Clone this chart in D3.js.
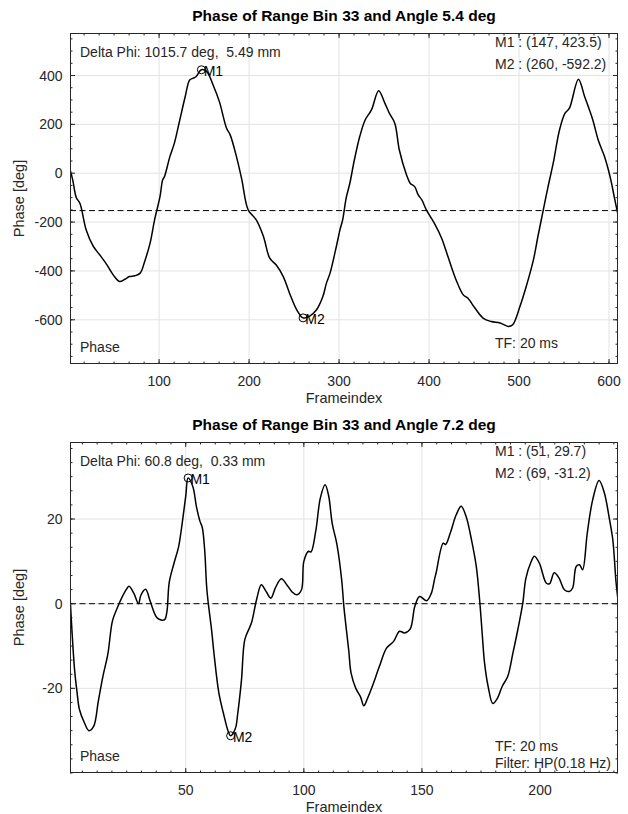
<!DOCTYPE html>
<meta charset="utf-8">
<style>
  body { margin: 0; background: #fff; }
  svg text { font-family: Arial, "Liberation Sans", Helvetica, sans-serif; fill: #262626; white-space: pre; }
</style>
<body>
<div id="chart"></div>
<script src="https://cdn.jsdelivr.net/npm/d3@7/dist/d3.min.js"></script>
<script>

// ---- data ----
var topFrames = [1, 4, 8, 12, 19, 27, 34, 42, 49, 56, 62, 67, 73, 79, 84, 90, 95, 101, 104, 106,
  112, 117, 123, 129, 134, 138, 141, 147, 153, 160, 167, 175, 179, 186, 192, 199, 208, 216, 223, 230,
  238, 245, 253, 260, 267, 275, 282, 286, 290, 297, 301, 304, 308, 312, 317, 323, 329, 336, 344, 351,
  356, 362, 367, 375, 379, 384, 388, 392, 397, 406, 414, 421, 430, 438, 443, 451, 460, 469, 479, 488,
  493, 501, 508, 516, 521, 527, 532, 538, 545, 551, 556, 566, 573, 582, 588, 595, 602, 606, 610];
var topPhase = [15, -27, -100, -123, -232, -300, -334, -375, -416, -443, -434, -423, -420, -409, -361, -286, -191, -96, -27, -14,
  68, 123, 218, 313, 382, 389, 395, 423.5, 416, 361, 293, 184, 157, 68, -27, -150, -191, -259, -348, -375,
  -423, -491, -559, -592.2, -586, -559, -505, -450, -409, -300, -232, -191, -100, -41, 54, 150, 218, 259, 338, 286,
  245, 204, 95, -7, -41, -55, -89, -109, -150, -205, -266, -341, -436, -498, -511, -552, -593, -607, -613, -627,
  -620, -546, -464, -355, -259, -150, -60, 41, 177, 245, 266, 385, 313, 218, 136, 68, -27, -100, -170];

var bottomFrames = [1, 2, 3, 4, 5, 7, 9, 11, 13, 15, 17, 19, 21, 23, 25, 26, 28, 30, 31, 33,
  35, 38, 41, 42, 43, 45, 47, 48, 50, 51, 53, 54.5, 56, 57, 58, 59, 61, 62, 64, 66,
  68, 69, 71, 72, 73.6, 75, 77, 78, 80, 82, 84, 86, 88, 90.5, 93, 95, 97, 99, 100, 102,
  103, 105, 107, 109, 110.5, 112, 114, 116, 117, 119, 120, 122, 124, 125.4, 127, 129, 132, 135, 138, 140.5,
  142.6, 145, 147, 149, 152, 154, 155.3, 156, 159, 160, 162, 164.5, 166.6, 168.7, 171, 173, 174.4, 175.5, 176.5, 178,
  180, 182, 184, 186.3, 188.5, 190.6, 192.7, 194, 196, 197.6, 199.7, 202.6, 204, 206, 208, 210.3, 212.4, 213.8, 215.3, 216.7,
  218, 220, 222.3, 225, 227.2, 229.4, 230.8, 232.2, 233];
var bottomPhase = [2, -8, -16, -21, -25, -28, -30, -29, -23, -17, -12, -4, -1, 1.5, 3.5, 4.1, 2.5, 0, 2, 3.4,
  0.5, -3.4, -3.8, -2, 5, 9.5, 13.5, 17, 25.4, 29.7, 27.7, 23, 19.5, 18, 12.8, 3, -6.5, -12, -21, -26,
  -30.2, -31.2, -29.5, -26, -18, -8.5, -5.7, -4.2, 1, 4.5, 2.9, 1.3, 3.8, 5.9, 4.3, 2.8, 2.1, 3.3, 10, 12.4,
  12.2, 17, 25, 28.1, 25.5, 19, 14, 5.7, -1, -11, -16.4, -20, -22, -24.1, -22.3, -19.5, -14.8, -10.5, -8.9, -6.5,
  -6.9, -6, -0.6, 1.7, 0.7, 2.5, 5.7, 7.3, 14.3, 14, 16.7, 21, 23, 20.6, 15, 8.8, 1, -7, -14, -19.5,
  -23.6, -22.3, -19.5, -17.2, -11.7, -6.1, 0.2, 6, 9.6, 11.2, 9.6, 4.9, 4.7, 7.3, 6.1, 3.3, 2.9, 3.7, 8.8, 9.2,
  8, 16.7, 24.6, 29.1, 26.2, 19.9, 15.1, 4.9, 0.9];

var topXTicks = [100, 200, 300, 400, 500, 600];
var topYTicks = [-600, -400, -200, 0, 200, 400];
var bottomXTicks = [50, 100, 150, 200];
var bottomYTicks = [-20, 0, 20];

var topMarkers = [{name: "M1", f: 147, v: 423.5}, {name: "M2", f: 260, v: -592.2}];
var bottomMarkers = [{name: "M1", f: 51, v: 29.7}, {name: "M2", f: 69, v: -31.2}];
var topMean = -153;
var bottomMean = 0;

var topTexts = ["Delta Phi: 1015.7 deg,  5.49 mm", "M1 : (147, 423.5)", "M2 : (260, -592.2)", "TF: 20 ms"];
var bottomTexts = ["Delta Phi: 60.8 deg,  0.33 mm", "M1 : (51, 29.7)", "M2 : (69, -31.2)", "TF: 20 ms", "Filter: HP(0.18 Hz)"];

var svg = d3.select("#chart").append("svg")
    .attr("width", 628)
    .attr("height", 814);

var fs = 14;

function panel(cfg) {
  var left = 70, right = 618, top = cfg.top, bottom = cfg.bottom;
  var x = d3.scaleLinear().domain(cfg.xDomain).range([left, right]);
  var y = d3.scaleLinear().domain(cfg.yDomain).range([bottom, top]);
  var g = svg.append("g");

  g.append("rect").attr("x", left).attr("y", top)
    .attr("width", right - left).attr("height", bottom - top).attr("fill", "#fff");

  // grid
  g.selectAll(".gx").data(cfg.xTicks).enter().append("line")
    .attr("x1", x).attr("x2", x).attr("y1", top).attr("y2", bottom)
    .attr("stroke", "#e3e3e3").attr("stroke-width", 1);
  g.selectAll(".gy").data(cfg.yTicks).enter().append("line")
    .attr("y1", y).attr("y2", y).attr("x1", left).attr("x2", right)
    .attr("stroke", "#e3e3e3").attr("stroke-width", 1);

  // mean line
  g.append("line")
    .attr("x1", left).attr("x2", right)
    .attr("y1", y(cfg.mean)).attr("y2", y(cfg.mean))
    .attr("stroke", "#000").attr("stroke-width", 1)
    .attr("stroke-dasharray", "6,3.5");

  // curve
  var clipId = "clip" + cfg.id;
  svg.append("clipPath").attr("id", clipId).append("rect")
    .attr("x", left).attr("y", top).attr("width", right - left).attr("height", bottom - top);
  var pts = cfg.frames.map(function(f, i) { return [f, cfg.phase[i]]; });
  g.append("path")
    .datum(pts)
    .attr("clip-path", "url(#" + clipId + ")")
    .attr("fill", "none")
    .attr("stroke", "#000")
    .attr("stroke-width", 1.5)
    .attr("stroke-linejoin", "round")
    .attr("d", d3.line()
      .curve(d3.curveCatmullRom.alpha(0.5))
      .x(function(d) { return x(d[0]); })
      .y(function(d) { return y(d[1]); }));

  // ticks (inward, all four sides)
  var minorX = d3.range(0, cfg.xDomain[1] + 0.01, cfg.xMinor).filter(function(v) { return v >= cfg.xDomain[0]; });
  var minorY = d3.range(Math.ceil(cfg.yDomain[0] / cfg.yMinor) * cfg.yMinor, cfg.yDomain[1], cfg.yMinor);
  var tk = g.append("g").attr("stroke", "#262626").attr("stroke-width", 1);
  function xt(vals, len) {
    vals.forEach(function(v) {
      tk.append("line").attr("x1", x(v)).attr("x2", x(v)).attr("y1", bottom).attr("y2", bottom - len);
      tk.append("line").attr("x1", x(v)).attr("x2", x(v)).attr("y1", top).attr("y2", top + len);
    });
  }
  function yt(vals, len) {
    vals.forEach(function(v) {
      tk.append("line").attr("y1", y(v)).attr("y2", y(v)).attr("x1", left).attr("x2", left + len);
      tk.append("line").attr("y1", y(v)).attr("y2", y(v)).attr("x1", right).attr("x2", right - len);
    });
  }
  xt(minorX, 2.5); xt(cfg.xTicks, 5);
  yt(minorY, 2.5); yt(cfg.yTicks, 5);

  g.append("rect").attr("x", left + 0.5).attr("y", top + 0.5)
    .attr("width", right - left - 1).attr("height", bottom - top - 1)
    .attr("fill", "none").attr("stroke", "#262626").attr("stroke-width", 1);

  // tick labels
  g.selectAll(".lx").data(cfg.xTicks).enter().append("text")
    .attr("x", x).attr("y", bottom + 22)
    .attr("text-anchor", "middle").attr("font-size", fs)
    .text(function(d) { return d; });
  g.selectAll(".ly").data(cfg.yTicks).enter().append("text")
    .attr("x", left - 7.5).attr("y", function(d) { return y(d) + 5; })
    .attr("text-anchor", "end").attr("font-size", fs)
    .text(function(d) { return d; });

  // axis labels and title
  g.append("text").attr("x", (left + right) / 2).attr("y", bottom + 39)
    .attr("text-anchor", "middle").attr("font-size", fs + 0.5).text("Frameindex");
  g.append("text")
    .attr("transform", "translate(24," + (top + bottom) / 2 + ")rotate(-90)")
    .attr("text-anchor", "middle").attr("font-size", fs + 0.5).text("Phase [deg]");
  g.append("text").attr("x", (left + right) / 2).attr("y", top - 12)
    .attr("text-anchor", "middle").attr("font-size", 15.5).attr("font-weight", "bold")
    .style("fill", "#000").text(cfg.title);

  // markers
  cfg.markers.forEach(function(m) {
    g.append("circle").attr("cx", x(m.f)).attr("cy", y(m.v)).attr("r", 4)
      .attr("fill", "none").attr("stroke", "#000").attr("stroke-width", 1);
    g.append("text").attr("x", x(m.f) + 2.3).attr("y", y(m.v) + 6.5)
      .attr("font-size", fs).style("fill", "#000").text(m.name);
  });

  // annotations
  var t = cfg.texts;
  g.append("text").attr("x", 80).attr("y", top + 23.5).attr("font-size", fs).text(t[0]);
  g.append("text").attr("x", 495).attr("y", top + 13.5).attr("font-size", fs).text(t[1]);
  g.append("text").attr("x", 495).attr("y", top + 36).attr("font-size", fs).text(t[2]);
  g.append("text").attr("x", 80).attr("y", bottom - 12.5).attr("font-size", fs).text("Phase");
  if (t.length > 4) {
    g.append("text").attr("x", 495).attr("y", bottom - 22.5).attr("font-size", fs).text(t[3]);
    g.append("text").attr("x", 495).attr("y", bottom - 5).attr("font-size", fs).text(t[4]);
  } else {
    g.append("text").attr("x", 495).attr("y", bottom - 16).attr("font-size", fs).text(t[3]);
  }
}

panel({
  id: 1, top: 33, bottom: 364,
  xDomain: [1, 610], yDomain: [-781, 574],
  xTicks: topXTicks, yTicks: topYTicks, xMinor: 100 / 6, yMinor: 50,
  frames: topFrames, phase: topPhase, mean: topMean, markers: topMarkers,
  texts: topTexts, title: "Phase of Range Bin 33 and Angle 5.4 deg"
});

panel({
  id: 2, top: 442, bottom: 773,
  xDomain: [1, 233], yDomain: [-40, 38.2],
  xTicks: bottomXTicks, yTicks: bottomYTicks, xMinor: 6.25, yMinor: 20 / 6,
  frames: bottomFrames, phase: bottomPhase, mean: bottomMean, markers: bottomMarkers,
  texts: bottomTexts, title: "Phase of Range Bin 33 and Angle 7.2 deg"
});

</script>
